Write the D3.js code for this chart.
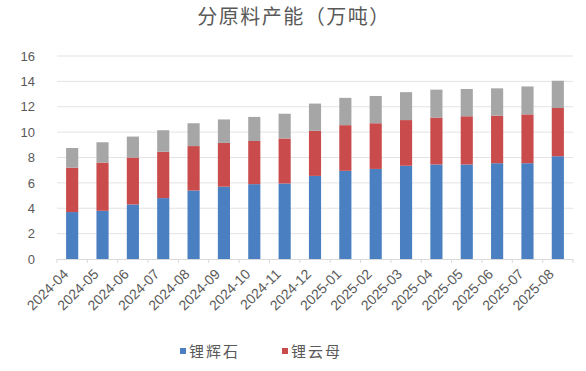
<!DOCTYPE html>
<html>
<head>
<meta charset="utf-8">
<script src="https://cdn.jsdelivr.net/npm/d3@7"></script>
<style>
  body { margin: 0; background: #fff; }
  text { font-family: "Noto Sans CJK SC", "Liberation Sans", sans-serif; }
</style>
</head>
<body>
<div id="chart"></div>
<script>
// months on the x axis
const months = ["2024-04", "2024-05", "2024-06", "2024-07", "2024-08", "2024-09", "2024-10", "2024-11", "2024-12",
  "2025-01", "2025-02", "2025-03", "2025-04", "2025-05", "2025-06", "2025-07", "2025-08"];
// 锂辉石 (blue)
const spodumene = [3.7, 3.8, 4.3, 4.8, 5.4, 5.7, 5.9, 5.95, 6.55, 6.95, 7.1, 7.35, 7.45, 7.45, 7.55, 7.55, 8.1];
// 锂云母 (red)
const lepidolite = [3.5, 3.8, 3.7, 3.65, 3.5, 3.45, 3.4, 3.55, 3.55, 3.6, 3.6, 3.6, 3.7, 3.8, 3.75, 3.85, 3.8];
// other (gray, no legend entry)
const other = [1.55, 1.6, 1.65, 1.7, 1.8, 1.85, 1.9, 1.95, 2.15, 2.15, 2.15, 2.2, 2.2, 2.15, 2.15, 2.2, 2.15];
const yTicks = [0, 2, 4, 6, 8, 10, 12, 14, 16];

const W = 586, H = 371;
const margin = { top: 56, right: 13, bottom: 112, left: 57 };
const width = W - margin.left - margin.right;
const height = H - margin.top - margin.bottom;

const svg = d3.select("#chart").append("svg")
  .attr("width", W).attr("height", H);

svg.append("text")
  .attr("x", 294).attr("y", 24)
  .attr("text-anchor", "middle")
  .attr("font-size", 20)
  .attr("fill", "#595959")
  .attr("letter-spacing", 1.5)
  .text("分原料产能（万吨）");

const g = svg.append("g").attr("transform", "translate(" + margin.left + "," + margin.top + ")");

const x = d3.scaleBand().domain(months).range([0, width]).paddingInner(0.6).paddingOuter(0.3);
const y = d3.scaleLinear().domain([0, 16]).range([height, 0]);

// gridlines
g.append("g").selectAll("line").data(yTicks.filter(d => d > 0)).join("line")
  .attr("x1", 0).attr("x2", width)
  .attr("y1", d => y(d)).attr("y2", d => y(d))
  .attr("stroke", "#e3e3e3").attr("stroke-width", 1);

// y axis labels
const yAxis = g.append("g").call(d3.axisLeft(y).tickValues(yTicks).tickSize(0).tickPadding(22));
yAxis.select(".domain").remove();
yAxis.selectAll("text").attr("font-size", 13).attr("fill", "#595959")
  .style("font-family", "'Liberation Sans', Arial, sans-serif");

// stacked bars
const rows = months.map((m, i) => ({ month: m, spodumene: spodumene[i], lepidolite: lepidolite[i], other: other[i] }));
const keys = ["spodumene", "lepidolite", "other"];
const colors = { spodumene: "#4a7fc1", lepidolite: "#c94b4b", other: "#a6a6a6" };
const stacked = d3.stack().keys(keys)(rows);

g.append("g").selectAll("g").data(stacked).join("g")
  .attr("fill", d => colors[d.key])
  .selectAll("rect").data(d => d).join("rect")
  .attr("x", d => x(d.data.month))
  .attr("width", x.bandwidth())
  .attr("y", d => y(d[1]))
  .attr("height", d => y(d[0]) - y(d[1]));

// x axis line with ticks between categories
g.append("line")
  .attr("x1", 0).attr("x2", width)
  .attr("y1", height + 0.5).attr("y2", height + 0.5)
  .attr("stroke", "#d9d9d9");
const step = x.step();
const bounds = d3.range(months.length + 1);
g.append("g").selectAll("line").data(bounds).join("line")
  .attr("x1", d => x(months[0]) - x.bandwidth() * 0.75 + d * step)
  .attr("x2", d => x(months[0]) - x.bandwidth() * 0.75 + d * step)
  .attr("y1", height).attr("y2", height + 4)
  .attr("stroke", "#d9d9d9");

// x labels rotated
g.append("g").selectAll("text").data(months).join("text")
  .attr("transform", d => "translate(" + (x(d) + x.bandwidth() / 2 - 3) + "," + (height + 16) + ") rotate(-45)")
  .attr("text-anchor", "end")
  .attr("font-size", 14)
  .attr("fill", "#595959")
  .style("font-family", "'Liberation Sans', Arial, sans-serif")
  .text(d => d);

// legend
const legendItems = [
  { label: "锂辉石", color: colors.spodumene, x: 180 },
  { label: "锂云母", color: colors.lepidolite, x: 282 }
];
const lg = svg.append("g");
lg.selectAll("rect").data(legendItems).join("rect")
  .attr("x", d => d.x).attr("y", 348).attr("width", 6).attr("height", 6)
  .attr("fill", d => d.color);
lg.selectAll("text").data(legendItems).join("text")
  .attr("x", d => d.x + 9).attr("y", 357)
  .attr("font-size", 15)
  .attr("letter-spacing", 2)
  .attr("fill", "#595959")
  .text(d => d.label);
</script>
</body>
</html>
